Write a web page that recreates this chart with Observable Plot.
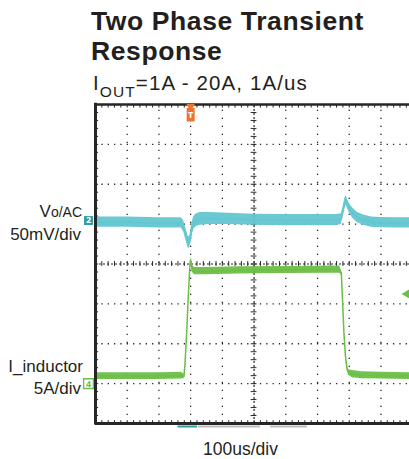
<!DOCTYPE html>
<html>
<head>
<meta charset="utf-8">
<script src="https://cdn.jsdelivr.net/npm/d3@7"></script>
<script src="https://cdn.jsdelivr.net/npm/@observablehq/plot@0.6"></script>
<style>
  html, body { margin: 0; padding: 0; background: #fff; }
  #wrap { position: relative; width: 409px; height: 459px; overflow: hidden; font-family: "Liberation Sans", Arial, sans-serif; color: #231f20; }
  #head { position: relative; height: 95px; }
  .lbl { position: absolute; white-space: nowrap; }
  #chart svg { display: block; }
</style>
</head>
<body>
<div id="wrap">
  <div id="head"></div>
  <div id="chart"></div>
</div>
<script>
// ---- Data ----
const title1 = "Two Phase Transient";
const title2 = "Response";
const xLabel = "100us/div";
const usPerDiv = 100;      // 100us/div
const mvPerDiv = 50;       // ch2 50mV/div
const aPerDiv = 5;         // ch4 5A/div
const ch2Offset = 1.05;    // divisions above centre
const ch4Offset = -3.0;    // divisions below centre
const triggerTime = 300;   // us
const triggerLevelA = 11.25; // A on ch4

// Ch2: output voltage, AC coupled (mV)
const cyanT     = [0, 100, 200, 270, 278, 284, 289, 293, 297, 300, 304, 310, 318, 330, 360, 420, 500, 600, 700, 760, 775, 781, 786, 790, 795, 802, 812, 825, 845, 870, 900, 950, 990];
const cyanMv    = [0, 0, -1, -1, -5, -14, -21, -26, -25, -19, -9, -1, 2.5, 4, 4.5, 4, 3, 2.5, 2.5, 2.5, 4, 14, 24, 27.5, 22.5, 16, 11, 6, 2.5, 0, -0.6, -1, -1];
const cyanNoise = [6.5, 6.5, 6.5, 6.5, 7, 7, 7.5, 7.5, 7.5, 7.5, 8, 8, 8, 8, 7.5, 7, 7, 7, 7, 7, 6.5, 6, 6, 6, 6, 6, 6.5, 6.5, 6.5, 6.5, 6.5, 6.5, 6.5];

// Ch4: inductor current (A)
const greenT     = [0, 100, 200, 270, 279, 282, 287, 292, 297, 300, 302, 305, 312, 350, 450, 600, 750, 770, 775, 779, 783, 788, 793, 798, 810, 840, 900, 990];
const greenA     = [0.95, 0.95, 0.95, 1.0, 0.9, 2.25, 6, 10.4, 14.4, 15.5, 15.1, 14.4, 14.1, 14.1, 14.2, 14.25, 14.3, 14.3, 13.9, 10.4, 6.6, 3.5, 1.9, 1.4, 1.2, 1.05, 1.0, 0.95];
const greenNoise = [0.42, 0.42, 0.42, 0.42, 0.3, 0.1, 0.1, 0.1, 0.2, 0.3, 0.4, 0.45, 0.45, 0.45, 0.45, 0.45, 0.45, 0.45, 0.3, 0.1, 0.1, 0.1, 0.2, 0.35, 0.45, 0.45, 0.42, 0.42];

// record-length indicator bars under the screen (us)
const recordBars = [
  {x1: 260, x2: 322, color: "#2f9ea3"},
  {x1: 325, x2: 520, color: "#bdbdbd"},
  {x1: 552, x2: 668, color: "#bdbdbd"}
];

// ---- Colours ----
const cyanColor = "#62c6d1";
const greenColor = "#6cbf47";
const tealMarker = "#2a9c9c";
const orange = "#ec7430";
const ink = "#262626";

// ---- Tables ----
const cyan = cyanT.map((t, i) => ({
  t,
  mid: ch2Offset + cyanMv[i] / mvPerDiv,
  lo: ch2Offset + (cyanMv[i] - cyanNoise[i]) / mvPerDiv,
  hi: ch2Offset + (cyanMv[i] + cyanNoise[i]) / mvPerDiv
}));
const green = greenT.map((t, i) => ({
  t,
  mid: ch4Offset + greenA[i] / aPerDiv,
  lo: ch4Offset + (greenA[i] - greenNoise[i]) / aPerDiv,
  hi: ch4Offset + (greenA[i] + greenNoise[i]) / aPerDiv
}));

const majorT = d3.range(1, 10).map(d => d * usPerDiv).filter(d => d !== 500);
const majorY = [-3, -2, -1, 1, 2, 3];
const minorT = d3.range(0, 1000.1, usPerDiv / 5);
const minorY = d3.range(-4, 4.01, 0.2);

const chart = Plot.plot({
  width: 409,
  height: 364,
  marginLeft: 95,
  marginRight: 0,
  marginTop: 9,
  marginBottom: 36,
  x: {domain: [0, 990], axis: null},
  y: {domain: [-4, 4], axis: null},
  style: {background: "transparent", overflow: "visible"},
  marks: [
    // dotted grid
    Plot.ruleX(majorT, {y1: -4, y2: 4, stroke: ink, strokeWidth: 1.3, strokeDasharray: "1.3,6.7"}),
    Plot.ruleY(majorY, {x1: 0, x2: 990, stroke: ink, strokeWidth: 1.3, strokeDasharray: "1.3,5.04"}),
    // centre lines with minor ticks
    Plot.ruleY([0], {x1: 0, x2: 990, stroke: ink, strokeWidth: 1.2, strokeDasharray: "2,2"}),
    Plot.ruleX(minorT, {y1: -0.06, y2: 0.06, stroke: ink, strokeWidth: 1}),
    Plot.ruleX([500], {y1: -4, y2: 4, stroke: ink, strokeWidth: 1.2, strokeDasharray: "2,2"}),
    Plot.ruleY(minorY, {x1: 491, x2: 509, stroke: ink, strokeWidth: 1}),
    // border ticks
    Plot.ruleX(minorT, {y1: 4, y2: 3.91, stroke: ink, strokeWidth: 1}),
    Plot.ruleX(minorT, {y1: -4, y2: -3.93, stroke: ink, strokeWidth: 1}),
    Plot.ruleY(minorY, {x1: 0, x2: 10, stroke: ink, strokeWidth: 1}),
    // traces
    Plot.areaY(cyan, {x: "t", y1: "lo", y2: "hi", fill: cyanColor, fillOpacity: 0.95}),
    Plot.line(cyan, {x: "t", y: "mid", stroke: cyanColor, strokeWidth: 1.5}),
    Plot.areaY(green, {x: "t", y1: "lo", y2: "hi", fill: greenColor, fillOpacity: 0.95}),
    Plot.line(green, {x: "t", y: "mid", stroke: greenColor, strokeWidth: 1.5}),
    // frame
    Plot.ruleY([4], {stroke: ink, strokeWidth: 2.5}),
    Plot.ruleY([-4], {stroke: ink, strokeWidth: 3}),
    Plot.ruleX([0], {y1: -4.04, y2: 4.03, stroke: ink, strokeWidth: 3}),
    // record bars below screen
    Plot.ruleY(recordBars, {y: -4, x1: "x1", x2: "x2", stroke: "color", dy: 3, strokeWidth: 2}),
    // trigger position marker
    Plot.ruleX([triggerTime], {y1: 3.56, y2: 3.9, stroke: orange, strokeWidth: 8}),
    Plot.dot([triggerTime], {x: d => d, y: 4, dy: 2, symbol: "triangle", rotate: 180, r: 3.2, fill: orange}),
    Plot.text([triggerTime], {x: d => d, y: 3.74, text: () => "T", fill: "white", fontSize: 9, fontWeight: "bold"}),
    // channel markers
    Plot.dot([ch2Offset], {x: 0, y: d => d + 0.04, dx: -7, symbol: "square", r: 5, fill: tealMarker}),
    Plot.text([ch2Offset], {x: 0, y: d => d + 0.04, dx: -7, text: () => "2", fill: "white", fontSize: 9, fontWeight: "bold"}),
    Plot.dot([ch4Offset], {x: 0, y: d => d, dx: -7, symbol: "square", r: 5.5, fill: "white", stroke: greenColor, strokeWidth: 1.3}),
    Plot.text([ch4Offset], {x: 0, y: d => d, dx: -7, text: () => "4", fill: greenColor, fontSize: 9, fontWeight: "bold"}),
    // trigger level marker
    Plot.dot([ch4Offset + triggerLevelA / aPerDiv], {x: 990, y: d => d, dx: -3, symbol: "triangle", rotate: -90, r: 3.2, fill: greenColor})
  ]
});
document.getElementById("chart").appendChild(chart);

// ---- Text (HTML) ----
const wrap = document.getElementById("wrap");
function place(html, x, baseline, size, opts = {}) {
  const lh = opts.lh || size;
  const el = document.createElement("div");
  el.className = "lbl";
  el.innerHTML = html;
  el.style.fontSize = size + "px";
  el.style.lineHeight = lh + "px";
  el.style.top = (baseline - ((lh - 1.117 * size) / 2 + 0.905 * size)) + "px";
  if (opts.weight) el.style.fontWeight = opts.weight;
  if (opts.ls) el.style.letterSpacing = opts.ls + "px";
  if (opts.anchor === "end") { el.style.right = (409 - x) + "px"; el.style.textAlign = "right"; }
  else if (opts.anchor === "middle") { el.style.left = (x - 100) + "px"; el.style.width = "200px"; el.style.textAlign = "center"; }
  else el.style.left = x + "px";
  wrap.appendChild(el);
  return el;
}
place(title1, 91, 30.5, 26.5, {weight: "bold", ls: 0.6});
place(title2, 91, 60.5, 26.5, {weight: "bold", ls: 0.6});
place('I<span style="font-size:15.5px;vertical-align:-7px">OUT</span>=1A - 20A, 1A/us', 93, 90, 20.5, {lh: 20, ls: 1.1});
place('V<span style="font-size:14px">o/AC</span>', 82, 217, 17, {anchor: "end"});
place("50mV/div", 81, 240, 17, {anchor: "end"});
place("I_inductor", 83, 372, 17, {anchor: "end"});
place("5A/div", 81, 394, 17, {anchor: "end"});
place(xLabel, 240.5, 456, 17.5, {anchor: "middle"});
</script>
</body>
</html>
